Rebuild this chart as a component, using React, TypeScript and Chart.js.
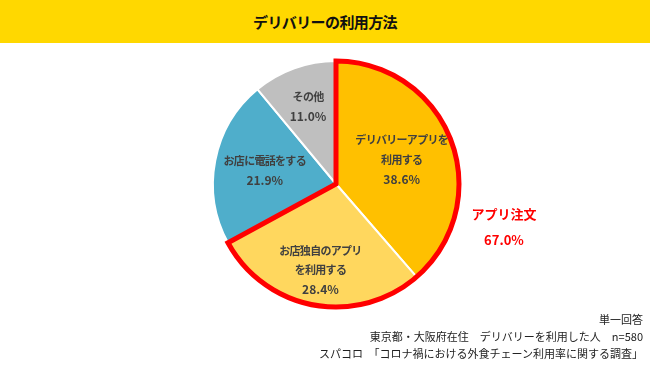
import React, { useEffect, useRef } from "react";
import { Chart, registerables } from "chart.js";

Chart.register(...registerables);

const title = "デリバリーの利用方法";
const categories = [
  ["デリバリーアプリを", "利用する"],
  ["お店独自のアプリ", "を利用する"],
  ["お店に電話をする"],
  ["その他"],
];
const values = [38.6, 28.4, 21.9, 11.0];
const colors = ["#FFC000", "#FFD75E", "#4FAECB", "#BFBFBF"];
const labelRadius = [0.57, 0.71, 0.59, 0.67];
const highlightIdx = [0, 1];
const highlightLabel = "アプリ注文";
const highlightValue = "67.0%";
const notes = [
  "単一回答",
  "東京都・大阪府在住　デリバリーを利用した人　n=580",
  "スパコロ　「コロナ禍における外食チェーン利用率に関する調査」",
];

const FONT = "'Noto Sans CJK JP', 'Noto Sans', sans-serif";

const overlayPlugin = {
  id: "overlay",
  afterDatasetsDraw(chart: any) {
    const ctx = chart.ctx;
    const meta = chart.getDatasetMeta(0);
    const arcs = meta.data;
    // red outline around highlighted slices
    const a0 = arcs[highlightIdx[0]];
    const a1 = arcs[highlightIdx[highlightIdx.length - 1]];
    ctx.save();
    ctx.beginPath();
    ctx.moveTo(a0.x, a0.y);
    ctx.arc(a0.x, a0.y, a0.outerRadius, a0.startAngle, a1.endAngle);
    ctx.closePath();
    ctx.strokeStyle = "#FF0000";
    ctx.lineWidth = 5;
    ctx.lineJoin = "miter";
    ctx.stroke();
    ctx.restore();

    // slice labels
    ctx.save();
    ctx.fillStyle = "#404040";
    ctx.textAlign = "center";
    ctx.textBaseline = "middle";
    arcs.forEach((arc: any, i: number) => {
      const mid = (arc.startAngle + arc.endAngle) / 2;
      const r = arc.outerRadius * labelRadius[i];
      const cx = arc.x + Math.cos(mid) * r;
      const cy = arc.y + Math.sin(mid) * r;
      const lines = [...categories[i], values[i].toFixed(1) + "%"];
      const lh = 19.5;
      const y0 = cy - ((lines.length - 1) * lh) / 2;
      lines.forEach((t, k) => {
        const isVal = k === lines.length - 1;
        ctx.font = isVal ? `bold 12px ${FONT}` : `bold 11px ${FONT}`;
        (ctx as any).letterSpacing = isVal ? "0px" : "-0.7px";
        ctx.fillText(t, cx, y0 + k * lh);
      });
    });
    (ctx as any).letterSpacing = "0px";
    ctx.restore();

    // highlight label
    const c = arcs[0];
    ctx.save();
    ctx.fillStyle = "#FF0000";
    ctx.textAlign = "center";
    ctx.textBaseline = "middle";
    ctx.font = `bold 13px ${FONT}`;
    const hx = c.x + c.outerRadius + 45;
    ctx.fillText(highlightLabel, hx, c.y + 30);
    ctx.fillText(highlightValue, hx, c.y + 56);
    ctx.restore();
  },
};

export default function App() {
  const ref = useRef<HTMLCanvasElement>(null);
  useEffect(() => {
    document.body.style.margin = "0";
    const chart = new Chart(ref.current!, {
      type: "pie",
      data: {
        labels: categories.map((c) => c.join("")),
        datasets: [
          {
            data: values,
            backgroundColor: colors,
            borderColor: "#FFFFFF",
            borderWidth: 2,
          },
        ],
      },
      options: {
        animation: false,
        responsive: false,
        maintainAspectRatio: false,
        layout: { padding: { left: 212, right: 190, top: 60, bottom: 57 } },
        plugins: {
          legend: { display: false },
          tooltip: { enabled: false },
          title: { display: false },
        },
      },
      plugins: [overlayPlugin],
    });
    return () => chart.destroy();
  }, []);

  return (
    <div style={{ position: "relative", width: 650, height: 365, background: "#fff", overflow: "hidden" }}>
      <div
        style={{
          position: "absolute",
          left: 0,
          top: 0,
          width: 650,
          height: 43,
          background: "#FFD800",
          display: "flex",
          alignItems: "center",
          justifyContent: "center",
          fontFamily: FONT,
          fontWeight: 700,
          fontSize: 15,
          letterSpacing: -0.6,
          color: "#111",
        }}
      >
        {title}
      </div>
      <canvas ref={ref} width={650} height={365} style={{ position: "absolute", left: 0, top: 0 }} />
      <div
        style={{
          position: "absolute",
          right: 7,
          top: 311,
          textAlign: "right",
          fontFamily: FONT,
          fontSize: 11,
          lineHeight: "17px",
          color: "#222",
          whiteSpace: "pre",
        }}
      >
        {notes.map((n, i) => (
          <div key={i}>{n}</div>
        ))}
      </div>
    </div>
  );
}
